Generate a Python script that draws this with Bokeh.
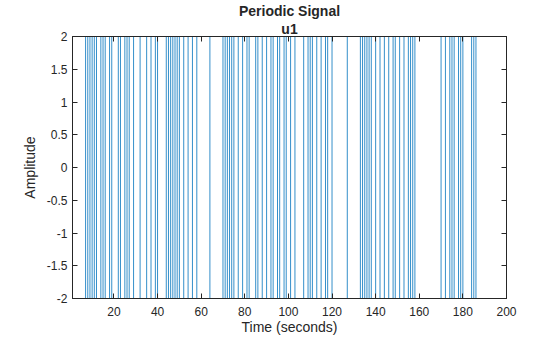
from bokeh.plotting import figure
from bokeh.models import Range1d, FixedTicker, LinearAxis, Title, CustomJSTickFormatter
from bokeh.embed import file_html
from bokeh.resources import INLINE

# segment start times (seconds) and levels of the periodic signal u1
seg_start = [1, 7, 8, 9, 10, 11, 12, 14, 15, 16, 18, 19, 22, 23, 25, 26, 27, 29, 32,
             35, 37, 39, 40, 44, 45, 46, 47, 48, 49, 50, 52, 54, 56, 58, 64, 70,
             71, 72, 73, 74, 75, 77, 79, 81, 82, 85, 86, 88, 90, 92, 93, 95, 96, 98, 99,
             101, 103, 107, 109, 110, 111, 113, 115, 117, 118, 120, 127,
             133, 134, 135, 136, 137, 138, 140, 142, 144, 146, 148, 149,
             151, 153, 155, 156, 157, 158, 170, 172, 174, 175, 176, 178, 179, 180,
             184, 185, 186]
seg_level = [-2, 2, -2, 2, -2, 2, -2, 2, -2, 2, -2, 2, -2, 2, -2, 2, -2, 2, -2,
             2, -2, 2, -2, 2, -2, 2, -2, 2, -2, 2, -2, 2, -2, 2, -2, 2,
             -2, 2, -2, 2, -2, 2, -2, 2, -2, 2, -2, 2, -2, 2, -2, 2, -2, 2, -2,
             2, -2, 2, -2, 2, -2, 2, -2, 2, -2, 2, -2,
             2, -2, 2, -2, 2, -2, 2, -2, 2, -2, 2, -2,
             2, -2, 2, -2, 2, -2, 2, -2, 2, -2, 2, -2, 2, -2,
             2, -2, 2]
end_time = 190

x_ticks = [20, 40, 60, 80, 100, 120, 140, 160, 180, 200]
y_ticks = [-2, -1.5, -1, -0.5, 0, 0.5, 1, 1.5, 2]
y_labels = ["-2", "-1.5", "-1", "-0.5", "0", "0.5", "1", "1.5", "2"]

xs = seg_start + [end_time]
ys = seg_level + [seg_level[-1]]

FONT = "Liberation Sans"
AX = "#262626"

p = figure(width=560, height=337, output_backend="svg", toolbar_location=None,
           x_range=Range1d(1, 200), y_range=Range1d(-2, 2),
           min_border_left=72, min_border_right=54, min_border_top=35, min_border_bottom=38,
           title="Periodic Signal")
p.title.align = "center"
p.title.text_font = FONT
p.title.text_font_size = "14px"
p.title.text_color = AX
p.title.standoff = 0

p.step(xs, ys, mode="after", line_color="#0072BD", line_width=0.8)

p.grid.visible = False
p.outline_line_color = AX
p.outline_line_width = 1
p.background_fill_color = "white"
p.border_fill_color = "white"

for ax in (p.xaxis[0], p.yaxis[0]):
    ax.major_tick_in = 5
    ax.major_tick_out = 0
    ax.minor_tick_line_color = None
    ax.axis_line_color = AX
    ax.major_tick_line_color = AX
    ax.major_label_text_color = AX
    ax.major_label_text_font = FONT
    ax.major_label_text_font_size = "12px"
    ax.axis_label_text_font = FONT
    ax.axis_label_text_font_size = "14px"
    ax.axis_label_text_font_style = "normal"
    ax.axis_label_text_color = AX

p.xaxis.ticker = FixedTicker(ticks=x_ticks)
p.yaxis.ticker = FixedTicker(ticks=y_ticks)
p.yaxis.major_label_overrides = {v: s for v, s in zip(y_ticks, y_labels)}
p.xaxis.axis_label = "Time (seconds)"
p.yaxis.axis_label = "Amplitude"
p.xaxis.major_label_standoff = 8
p.xaxis.axis_label_standoff = 0
p.yaxis.major_label_standoff = 5
p.yaxis.axis_label_standoff = 6

blank = CustomJSTickFormatter(code="return '';")
right = LinearAxis(ticker=FixedTicker(ticks=y_ticks), formatter=blank,
                   major_tick_in=5, major_tick_out=0, minor_tick_line_color=None,
                   axis_line_color=AX, major_tick_line_color=AX, major_label_standoff=0)
p.add_layout(right, "right")
top = LinearAxis(ticker=FixedTicker(ticks=x_ticks), formatter=blank,
                 major_tick_in=5, major_tick_out=0, minor_tick_line_color=None,
                 axis_line_color=AX, major_tick_line_color=AX, major_label_standoff=0)
sub = Title(text="u1", align="center", text_font=FONT,
            text_font_size="14px", text_color=AX, standoff=0)
p.above = [top, sub]

html = file_html(p, INLINE)
open("out.html", "w").write(html)
